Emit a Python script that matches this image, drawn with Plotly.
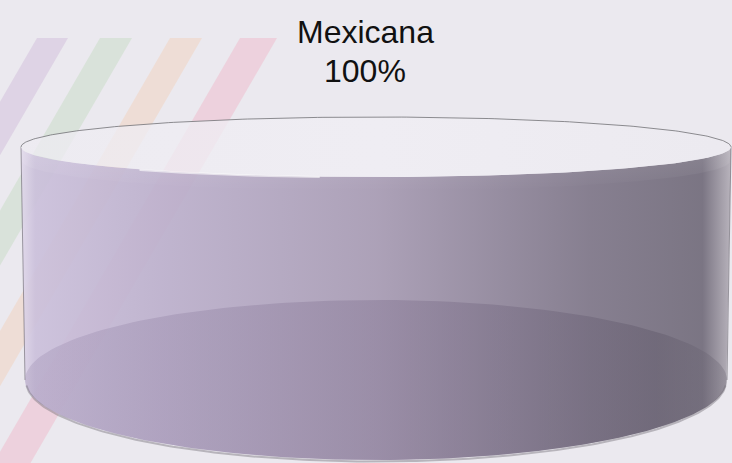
import numpy as np
import plotly.graph_objects as go

# data
labels = ["Mexicana"]
values = [100]

# cylinder geometry (pixel-like axis units, y grows downward)
cx = 376
top_cy, top_rx, top_ry = 147, 355, 30
bot_cy, bot_rx, bot_ry = 380, 351, 80

total = float(sum(values))
shares = [v / total for v in values]

fig = go.Figure()

# faint diagonal stripes in the background
stripes = [(-33, 0, "rgba(214,196,222,0.55)"),
           (37, 68, "rgba(214,196,222,0.6)"),
           (100, 132, "rgba(205,222,203,0.6)"),
           (170, 202, "rgba(240,214,196,0.6)"),
           (240, 277, "rgba(238,196,210,0.65)")]
slope = 0.58
for x0, x1, col in stripes:
    y0, y1 = 38, 470
    d = slope * (y1 - y0)
    fig.add_shape(type="path", layer="below", line_width=0, fillcolor=col,
                  path=f"M {x0},{y0} L {x1},{y0} L {x1-d},{y1} L {x0-d},{y1} Z")

def arc(cy, rx, ry, a0, a1, n=200):
    t = np.linspace(a0, a1, n)
    return cx + rx * np.cos(t), cy + ry * np.sin(t)

def line(x, y, w, c):
    fig.add_trace(go.Scatter(x=x, y=y, mode="lines", line=dict(width=w, color=c),
                             hoverinfo="skip", showlegend=False))

start = 0.0
for lab, share in zip(labels, shares):
    a0, a1 = start, start + share * 2 * np.pi
    start = a1

    # front wall (visible part is between 0 and pi)
    f0, f1 = max(a0, 0), min(a1, np.pi)
    if f1 > f0:
        tx, ty = arc(top_cy, top_rx, top_ry, f1, f0)
        bx, by = arc(bot_cy, bot_rx, bot_ry, f0, f1)
        fig.add_trace(go.Scatter(
            x=np.r_[tx, bx], y=np.r_[ty, by], mode="lines", fill="toself",
            line=dict(width=0),
            fillgradient=dict(type="horizontal", colorscale=[
                [0, "#e0d8ea"], [0.02, "#cbc0db"], [0.2, "#bcb0cc"],
                [0.5, "#a79bb3"], [0.8, "#7e7688"], [0.96, "#716b7a"],
                [1, "#b4afb8"]]),
            opacity=0.92, hoverinfo="skip", showlegend=False))
        # lighter band just under the front rim
        ux, uy = arc(top_cy + 14, top_rx - 1, top_ry, f0, f1)
        fig.add_trace(go.Scatter(
            x=np.r_[tx, ux], y=np.r_[ty, uy], mode="lines", fill="toself",
            line=dict(width=0),
            fillgradient=dict(type="vertical", colorscale=[
                [0, "rgba(255,255,255,0)"], [1, "rgba(255,255,255,0.12)"]]),
            hoverinfo="skip", showlegend=False))
        # side edges
        line([cx - top_rx, cx - bot_rx], [top_cy, bot_cy], 1, "rgba(90,85,95,0.55)")
        line([cx + top_rx, cx + bot_rx], [top_cy, bot_cy], 1, "rgba(90,85,95,0.55)")

    # floor of the slice seen through the wall
    ex, ey = arc(bot_cy, bot_rx, bot_ry, a0, a1)
    fig.add_trace(go.Scatter(
        x=np.r_[cx, ex, cx], y=np.r_[bot_cy, ey, bot_cy], mode="lines", fill="toself",
        line=dict(width=0),
        fillgradient=dict(type="horizontal", colorscale=[
            [0, "rgba(160,145,180,0.35)"], [0.5, "rgba(130,115,145,0.42)"],
            [0.9, "rgba(95,88,105,0.45)"], [1, "rgba(110,105,118,0.35)"]]),
        hoverinfo="skip", showlegend=False))

    # shadow line under the floor
    sx, sy = arc(bot_cy + 1.5, bot_rx - 1, bot_ry, 0.05, np.pi - 0.05)
    line(sx, sy, 2, "rgba(120,115,125,0.45)")

    # top face
    tx, ty = arc(top_cy, top_rx, top_ry, a0, a1)
    fig.add_trace(go.Scatter(
        x=np.r_[cx, tx, cx], y=np.r_[top_cy, ty, top_cy], mode="lines", fill="toself",
        line=dict(width=0),
        fillgradient=dict(type="horizontal", colorscale=[
            [0, "rgba(238,236,242,0.75)"], [0.5, "rgba(240,238,244,0.8)"],
            [1, "rgba(236,234,240,0.85)"]]),
        hoverinfo="skip", showlegend=False))

    # back rim of the top face
    rx_, ry_ = arc(top_cy, top_rx, top_ry, np.pi, 2 * np.pi)
    line(rx_, ry_, 1, "rgba(105,105,110,0.75)")

    # glint on the front rim
    hx, hy = arc(top_cy + 0.5, top_rx, top_ry, 1.73, 2.3)
    line(hx, hy, 2, "rgba(255,255,255,0.6)")

    # label
    fig.add_annotation(x=cx - 11, y=32, text=lab, showarrow=False,
                       font=dict(family="Liberation Sans, Arial", size=32, color="#111111"))
    fig.add_annotation(x=cx - 11, y=71, text=f"{share * 100:.0f}%", showarrow=False,
                       font=dict(family="Liberation Sans, Arial", size=32, color="#111111"))

fig.update_xaxes(range=[0, 732], visible=False, fixedrange=True)
fig.update_yaxes(range=[463, 0], visible=False, fixedrange=True)
fig.update_layout(width=732, height=463, margin=dict(l=0, r=0, t=0, b=0),
                  paper_bgcolor="#ebe9ef", plot_bgcolor="#ebe9ef",
                  showlegend=False)

fig.write_html("out.html", config={"displayModeBar": False},
               post_script="document.body.style.margin='0';")
